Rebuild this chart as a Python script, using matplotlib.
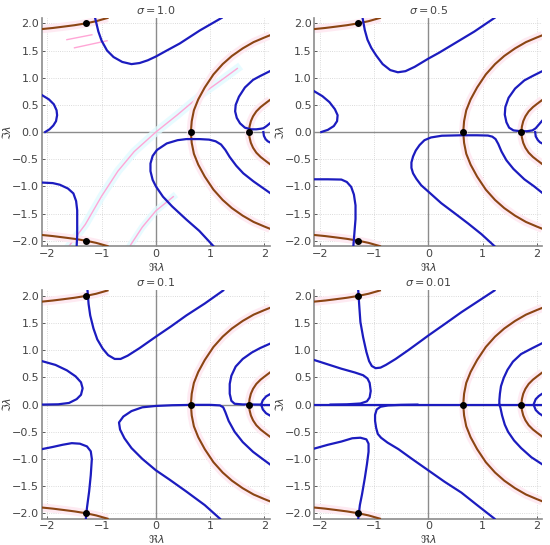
import matplotlib
matplotlib.use("Agg")
import matplotlib.pyplot as plt
import numpy as np

# panel titles
sigmas = ["1.0", "0.5", "0.1", "0.01"]

# roots (black dots)
roots_x = [0.644, 1.715, -1.29, -1.29]
roots_y = [0.0, 0.0, 2.0, -2.0]

# brown curves (same in every panel), upper halves; lower halves are mirrored
brown_corner = [(-2.1, 1.895), (-1.9, 1.915), (-1.7, 1.94), (-1.5, 1.966), (-1.29, 2.0),
                (-1.1, 2.04), (-0.89, 2.1)]
brown_big = [(0.644, 0.0), (0.66, 0.2), (0.70, 0.4), (0.78, 0.6), (0.90, 0.82),
             (1.06, 1.06), (1.23, 1.25), (1.40, 1.40), (1.60, 1.54), (1.80, 1.655),
             (2.0, 1.74), (2.1, 1.78)]
brown_small = [(1.715, 0.0), (1.725, 0.1), (1.75, 0.2), (1.79, 0.29), (1.85, 0.38),
               (1.93, 0.46), (2.02, 0.53), (2.1, 0.59)]

# blue curves, sigma = 1.0
blue_10 = [
    [(-1.12, 2.1), (-1.06, 1.85), (-1.0, 1.68), (-0.9, 1.5), (-0.78, 1.38), (-0.62, 1.29),
     (-0.45, 1.25), (-0.3, 1.27), (-0.15, 1.32), (0.0, 1.39), (0.2, 1.5), (0.44, 1.63),
     (0.81, 1.87), (1.21, 2.1)],
    [(-2.1, 0.68), (-1.97, 0.6), (-1.88, 0.51), (-1.83, 0.4), (-1.82, 0.31), (-1.84, 0.2),
     (-1.89, 0.12), (-1.96, 0.05), (-2.04, 0.0)],
    [(-2.1, -0.93), (-1.9, -0.94), (-1.77, -0.97), (-1.62, -1.04), (-1.52, -1.13),
     (-1.47, -1.27), (-1.45, -1.44), (-1.45, -1.7), (-1.45, -1.9), (-1.46, -2.1)],
    [(1.06, -2.1), (0.8, -1.82), (0.56, -1.61), (0.3, -1.37), (0.13, -1.19), (0.0, -1.0),
     (-0.06, -0.88), (-0.1, -0.72), (-0.1, -0.58), (-0.06, -0.44), (0.02, -0.33),
     (0.2, -0.21), (0.4, -0.15), (0.56, -0.13), (0.8, -0.13), (0.98, -0.14), (1.1, -0.17),
     (1.2, -0.23), (1.28, -0.33), (1.36, -0.46), (1.48, -0.62), (1.61, -0.76),
     (1.8, -0.91), (2.1, -1.12)],
    [(2.1, 1.12), (1.92, 1.03), (1.79, 0.96), (1.64, 0.82), (1.53, 0.65), (1.47, 0.5),
     (1.46, 0.38), (1.49, 0.26), (1.55, 0.16), (1.64, 0.08), (1.75, 0.05), (1.85, 0.05),
     (1.93, 0.06), (1.98, 0.07), (2.04, 0.11), (2.1, 0.16)],
    [(1.98, 0.0), (1.99, -0.07), (2.02, -0.13), (2.06, -0.17), (2.1, -0.19)],
]

# blue curves, sigma = 0.5
blue_05 = [
    [(-1.21, 2.1), (-1.17, 1.88), (-1.12, 1.7), (-1.05, 1.55), (-0.96, 1.41), (-0.84, 1.25),
     (-0.7, 1.14), (-0.56, 1.1), (-0.42, 1.12), (-0.25, 1.2), (-0.1, 1.29), (0.0, 1.35),
     (0.2, 1.46), (0.4, 1.58), (0.6, 1.7), (0.85, 1.85), (1.22, 2.1)],
    [(-2.1, 0.75), (-1.95, 0.66), (-1.82, 0.55), (-1.72, 0.42), (-1.67, 0.31), (-1.68, 0.2),
     (-1.74, 0.11), (-1.85, 0.04), (-1.97, 0.0)],
    [(-2.1, -0.87), (-1.85, -0.87), (-1.6, -0.875), (-1.5, -0.92), (-1.42, -1.01),
     (-1.37, -1.15), (-1.34, -1.35), (-1.34, -1.6), (-1.36, -1.85), (-1.38, -2.1)],
    [(1.22, -2.1), (0.98, -1.88), (0.73, -1.68), (0.48, -1.49), (0.24, -1.31), (0.05, -1.14),
     (-0.13, -0.98), (-0.22, -0.86), (-0.28, -0.76), (-0.31, -0.66), (-0.31, -0.56),
     (-0.28, -0.45), (-0.23, -0.34), (-0.16, -0.24), (-0.07, -0.15), (0.05, -0.1),
     (0.25, -0.068), (0.6, -0.06), (0.9, -0.06), (1.1, -0.065), (1.18, -0.085),
     (1.24, -0.13), (1.29, -0.22), (1.35, -0.36), (1.44, -0.52), (1.57, -0.68),
     (1.77, -0.87), (1.95, -1.0), (2.1, -1.12)],
    [(2.1, 1.12), (1.92, 1.03), (1.77, 0.95), (1.6, 0.8), (1.48, 0.63), (1.42, 0.46),
     (1.41, 0.32), (1.44, 0.18), (1.49, 0.08), (1.57, 0.03), (1.7, 0.015), (1.82, 0.015),
     (1.92, 0.03), (1.98, 0.07), (2.04, 0.14), (2.1, 0.21)],
    [(1.97, 0.0), (1.98, -0.08), (2.02, -0.15), (2.06, -0.19), (2.1, -0.21)],
]

# blue curves, sigma = 0.1
blue_01 = [
    [(-1.26, 2.1), (-1.24, 1.85), (-1.21, 1.64), (-1.15, 1.4), (-1.08, 1.2), (-0.98, 1.03),
     (-0.88, 0.91), (-0.76, 0.84), (-0.65, 0.84), (-0.52, 0.9), (-0.3, 1.04), (0.0, 1.25),
     (0.28, 1.44), (0.56, 1.64), (0.9, 1.86), (1.24, 2.1)],
    [(-2.1, 0.8), (-1.85, 0.73), (-1.64, 0.63), (-1.48, 0.52), (-1.38, 0.41), (-1.35, 0.3),
     (-1.38, 0.18), (-1.46, 0.1), (-1.6, 0.03), (-1.8, 0.005), (-2.1, 0.0)],
    [(-2.1, -0.82), (-1.9, -0.78), (-1.72, -0.74), (-1.55, -0.71), (-1.4, -0.72),
     (-1.27, -0.77), (-1.2, -0.86), (-1.18, -1.0), (-1.2, -1.3), (-1.23, -1.6),
     (-1.27, -1.9), (-1.29, -2.1)],
    [(1.18, -2.1), (0.9, -1.85), (0.56, -1.6), (0.25, -1.38), (0.0, -1.21), (-0.25, -1.0),
     (-0.45, -0.8), (-0.58, -0.62), (-0.66, -0.46), (-0.68, -0.33), (-0.6, -0.22),
     (-0.45, -0.12), (-0.25, -0.05), (0.0, -0.025), (0.3, -0.012), (0.7, -0.005),
     (1.0, -0.005), (1.18, -0.015), (1.24, -0.05), (1.28, -0.14), (1.34, -0.3),
     (1.45, -0.5), (1.6, -0.69), (1.79, -0.87), (1.95, -0.99), (2.1, -1.1)],
    [(2.1, 1.12), (1.92, 1.04), (1.77, 0.96), (1.6, 0.84), (1.47, 0.7), (1.39, 0.53),
     (1.36, 0.38), (1.36, 0.2), (1.39, 0.07), (1.45, 0.015), (1.6, 0.003), (1.94, 0.0)],
    [(2.1, 0.19), (2.03, 0.15), (1.97, 0.08), (1.94, 0.0), (1.97, -0.09), (2.03, -0.16),
     (2.1, -0.2)],
    [(1.94, 0.0), (2.1, 0.0)],
]

# blue curves, sigma = 0.01
blue_001 = [
    [(-1.29, 2.1), (-1.27, 1.8), (-1.25, 1.52), (-1.2, 1.24), (-1.14, 0.97), (-1.09, 0.8),
     (-1.04, 0.71), (-0.97, 0.67), (-0.88, 0.68), (-0.78, 0.73), (-0.6, 0.84), (-0.37, 1.0),
     (-0.15, 1.16), (0.0, 1.27), (0.3, 1.48), (0.61, 1.7), (0.9, 1.89), (1.22, 2.1)],
    [(-2.1, 0.82), (-1.85, 0.74), (-1.6, 0.66), (-1.35, 0.59), (-1.2, 0.54), (-1.12, 0.48),
     (-1.08, 0.4), (-1.06, 0.25), (-1.08, 0.13), (-1.13, 0.06), (-1.25, 0.02),
     (-1.5, 0.005), (-1.8, 0.0)],
    [(-2.1, -0.81), (-1.85, -0.74), (-1.6, -0.68), (-1.4, -0.62), (-1.25, -0.61),
     (-1.14, -0.64), (-1.1, -0.72), (-1.1, -0.87), (-1.13, -1.1), (-1.17, -1.36),
     (-1.22, -1.65), (-1.26, -1.85), (-1.29, -2.1)],
    [(1.22, -2.1), (0.9, -1.85), (0.61, -1.62), (0.3, -1.42), (0.0, -1.21), (-0.3, -1.0),
     (-0.55, -0.82), (-0.75, -0.7), (-0.87, -0.61), (-0.93, -0.54), (-0.96, -0.43),
     (-0.98, -0.3), (-0.98, -0.19), (-0.95, -0.09), (-0.88, -0.04), (-0.74, -0.015),
     (-0.5, -0.005), (-0.2, 0.0)],
    [(1.31, 0.0), (1.33, -0.06), (1.36, -0.2), (1.41, -0.37), (1.47, -0.5), (1.58, -0.66),
     (1.71, -0.8), (1.9, -0.97), (2.1, -1.1)],
    [(2.1, 1.13), (1.92, 1.04), (1.71, 0.93), (1.56, 0.79), (1.46, 0.64), (1.39, 0.49),
     (1.34, 0.34), (1.32, 0.2), (1.31, 0.08), (1.31, 0.0)],
    [(2.1, 0.2), (2.04, 0.16), (1.98, 0.1), (1.94, 0.0), (1.98, -0.1), (2.04, -0.16),
     (2.1, -0.2)],
    [(-2.1, 0.0), (2.1, 0.0)],
]

# faint pink/cyan render artefacts visible in the sigma = 1.0 panel
artefact_a = [(-1.6, -2.1), (-1.3, -1.7), (-1.0, -1.18), (-0.7, -0.72), (-0.4, -0.36),
              (0.0, 0.0), (0.4, 0.32), (0.85, 0.7), (1.2, 0.95), (1.5, 1.17)]
artefact_b = [(-0.48, -2.1), (-0.25, -1.75), (0.0, -1.45), (0.32, -1.19)]
artefact_c = [(-1.64, 1.70), (-1.18, 1.79)]
artefact_d = [(-1.5, 1.55), (-0.9, 1.68)]

blue_sets = [blue_10, blue_05, blue_01, blue_001]

positions = [[0.0762, 0.5484, 0.4145, 0.4187], [0.5714, 0.5484, 0.4145, 0.4187],
             [0.0762, 0.0483, 0.4145, 0.4187], [0.5714, 0.0483, 0.4145, 0.4187]]

BLUE = "#1c1cbf"
BROWN = "#8b4513"
HALO = "#feeaf2"
GREY = "#8c8c8c"
TXT = "#444444"


def draw(ax, pts, **kw):
    a = np.array(pts)
    ax.plot(a[:, 0], a[:, 1], **kw)


def draw_sym(ax, pts, **kw):
    a = np.array(pts)
    ax.plot(a[:, 0], a[:, 1], **kw)
    ax.plot(a[:, 0], -a[:, 1], **kw)


fig = plt.figure(figsize=(5.5, 5.45), dpi=100)

for k in range(4):
    ax = fig.add_axes(positions[k])
    ax.set_xlim(-2.1, 2.1)
    ax.set_ylim(-2.1, 2.1)
    ax.grid(True, linestyle=":", linewidth=0.6, color="#cfcfcf")
    ax.set_axisbelow(True)
    ax.axhline(0, color=GREY, lw=1.0, zorder=1)
    ax.axvline(0, color=GREY, lw=1.0, zorder=1)

    if k == 0:
        draw(ax, artefact_a, color="#e2fbff", lw=6, alpha=0.8, zorder=1.2)
        draw(ax, artefact_a, color="#ffa6d6", lw=1.0, zorder=1.3)
        draw(ax, artefact_b, color="#e2fbff", lw=5, alpha=0.8, zorder=1.2)
        draw(ax, artefact_b, color="#ffa6d6", lw=1.0, zorder=1.3)
        draw(ax, artefact_c, color="#ffa6d6", lw=1.0, zorder=1.3)
        draw(ax, artefact_d, color="#ffa6d6", lw=1.0, zorder=1.3)

    for curve in (brown_corner, brown_big, brown_small):
        draw_sym(ax, curve, color=HALO, lw=6, solid_capstyle="butt", zorder=1.5)
    for curve in (brown_corner, brown_big, brown_small):
        draw_sym(ax, curve, color=BROWN, lw=1.5, zorder=3)

    for curve in blue_sets[k]:
        draw(ax, curve, color=BLUE, lw=1.6, zorder=4, solid_joinstyle="round")

    ax.plot(roots_x, roots_y, "o", color="black", ms=4, zorder=5, clip_on=False)

    ax.set_xticks([-2, -1, 0, 1, 2])
    ax.set_yticks([-2.0, -1.5, -1.0, -0.5, 0.0, 0.5, 1.0, 1.5, 2.0])
    ax.set_yticklabels([f"{v:.1f}".replace("-", "\u2212") for v in ax.get_yticks()])
    ax.tick_params(labelsize=8, colors=TXT, length=2, width=0.6, pad=2, direction="in")
    for s in ("top", "right"):
        ax.spines[s].set_visible(False)
    for s in ("left", "bottom"):
        ax.spines[s].set_color(GREY)
        ax.spines[s].set_linewidth(1.2)
    ax.set_title(r"$\sigma = %s$" % sigmas[k], fontsize=8, color=TXT, pad=3)
    ax.set_xlabel(r"$\Re\lambda$", fontsize=8, color=TXT)
    ax.set_ylabel(r"$\Im\lambda$", fontsize=8, color=TXT)
    ax.xaxis.set_label_coords(0.5, -0.064)
    ax.yaxis.set_label_coords(-0.125, 0.5)

fig.savefig("out.png", dpi=100)
